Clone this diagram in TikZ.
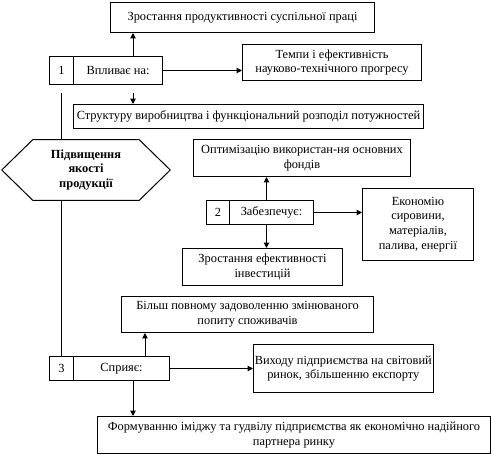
\documentclass[tikz,border=0pt]{standalone}
\usepackage{fontspec}
\setmainfont{Liberation Serif}
\newfontfamily\tnr{Liberation Serif}
\usetikzlibrary{arrows.meta,calc}
\begin{document}
\begin{tikzpicture}[x=0.75pt,y=-0.75pt,
  every node/.style={font=\tnr\fontsize{9.3}{11}\selectfont},
  box/.style={draw,line width=0.75pt,anchor=north west,inner sep=1pt,align=center},
  ln/.style={line width=0.75pt},
  arr/.style={line width=0.75pt,-{Triangle[length=4pt,width=4pt]}}]
\useasboundingbox (0,0) rectangle (492,454);
% level 1
\node[box,minimum width=198pt,minimum height=22.5pt] (A) at (110,2) {Зростання продуктивності суспільної праці};
\node[box,minimum width=18pt,minimum height=21pt] (n1) at (49,56) {1};
\node[box,minimum width=66.75pt,minimum height=21pt] (v1) at (73,56) {Впливає на:};
\node[box,minimum width=134.25pt,minimum height=27pt] (B) at (242,44) {Темпи і ефективність\\науково-технічного прогресу};
\node[box,minimum width=262.5pt,minimum height=18pt] (C) at (73,104) {Структуру виробництва і функціональний розподіл потужностей};
% hexagon
\node[inner sep=0pt,minimum width=126pt,minimum height=45pt,align=center,font=\tnr\fontsize{9.3}{11}\selectfont\bfseries] (hex) at (86,170) {Підвищення\\якості\\продукції};
\draw[ln] (hex.west) -- ([xshift=23.25pt]hex.north west) -- ([xshift=-23.25pt]hex.north east) -- (hex.east) -- ([xshift=-23.25pt]hex.south east) -- ([xshift=23.25pt]hex.south west) -- cycle;
% level 2
\node[box,minimum width=162.75pt,minimum height=27.75pt] (D) at (193,139) {Оптимізацію використан-ня основних\\фондів};
\node[box,minimum width=17.25pt,minimum height=18pt] (n2) at (206,200) {2};
\node[box,minimum width=63pt,minimum height=18pt] (v2) at (229,200) {Забезпечує:};
\node[box,minimum width=83.25pt,minimum height=54pt] (E) at (362,188) {Економію\\сировини,\\матеріалів,\\палива, енергії};
\node[box,minimum width=120pt,minimum height=27.75pt] (F) at (182,248) {Зростання ефективності\\інвестицій};
% level 3
\node[box,minimum width=189pt,minimum height=27pt] (G) at (121,296) {Більш повному задоволенню змінюваного\\попиту споживачів};
\node[box,minimum width=18pt,minimum height=18pt] (n3) at (49,356) {3};
\node[box,minimum width=72pt,minimum height=18pt] (v3) at (73,356) {Сприяє:};
\node[box,minimum width=127.5pt,minimum height=36pt] (H) at (253,344) {Виходу підприємства на світовий\\ринок, збільшенню експорту};
\node[box,minimum width=294.75pt,minimum height=27.75pt] (I) at (97,416) {Формуванню іміджу та гудвілу підприємства як економічно надійного\\партнера ринку};
% connectors
\coordinate (t1) at ([xshift=45pt]v1.north west);
\draw[arr] (t1) -- (t1 |- A.south);
\draw[arr] (v1.east) -- (v1.east -| B.west);
\coordinate (c1) at (133,93);
\draw[arr] (c1) -- (c1 |- C.north);
\coordinate (c2) at (61,93);
\draw[ln] (c2) -- (c2 |- hex.north);
\draw[ln] (hex.south -| n3.north) -- (n3.north);
\coordinate (t2) at ([xshift=-3.75pt]v2.north);
\draw[arr] (t2) -- (t2 |- D.south);
\draw[arr] (v2.east) -- (v2.east -| E.west);
\coordinate (t3) at ([xshift=-3.75pt]v2.south);
\draw[arr] (t3) -- (t3 |- F.north);
\coordinate (t4) at ([xshift=54pt]v3.north west);
\draw[arr] (t4) -- (t4 |- G.south);
\draw[arr] (v3.east) -- (v3.east -| H.west);
\coordinate (t5) at ([xshift=45pt]v3.south west);
\draw[arr] (t5) -- (t5 |- I.north);
\end{tikzpicture}
\end{document}
